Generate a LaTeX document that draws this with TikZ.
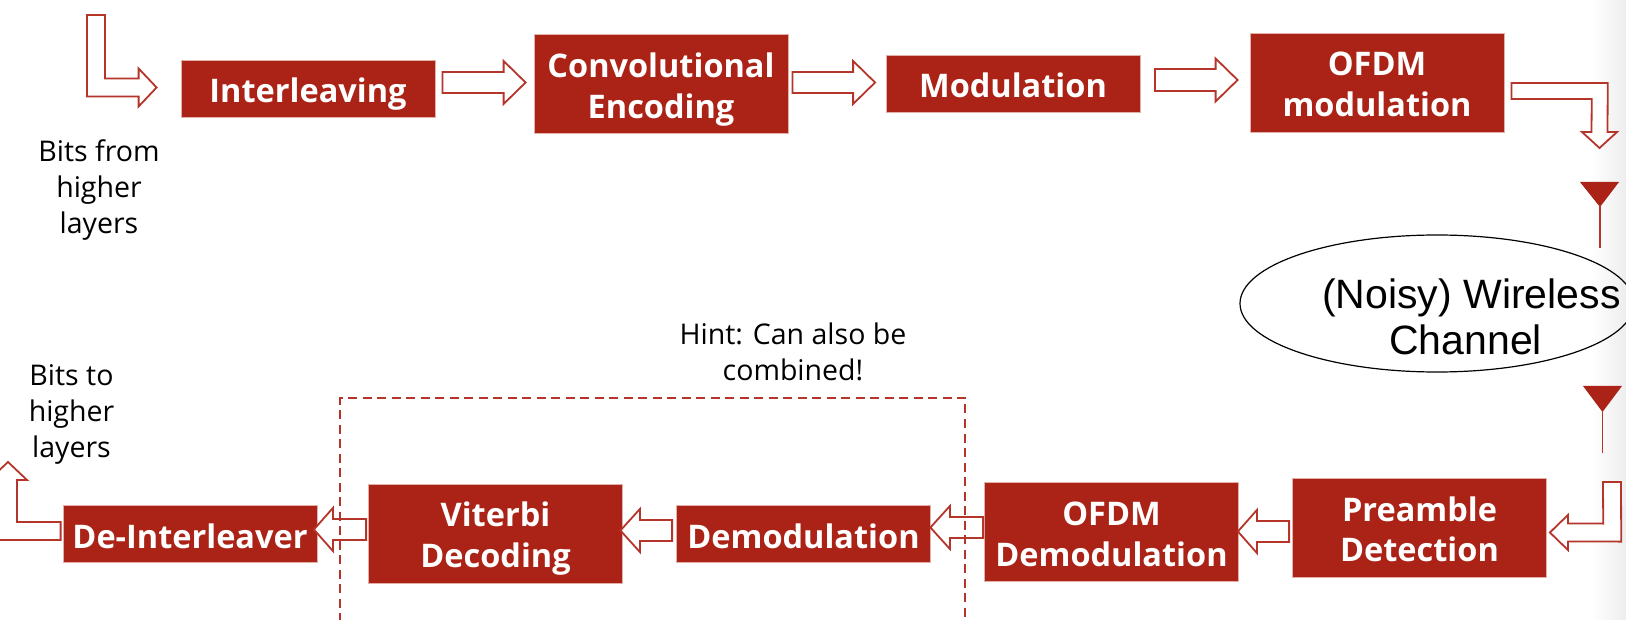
\documentclass[tikz,border=0pt]{standalone}
\usepackage{fontspec}
\setmainfont{Open Sans}
\newfontfamily\helv{Liberation Sans}
\usetikzlibrary{calc,shapes.geometric}
\definecolor{brick}{HTML}{AB2316}
\definecolor{rim}{HTML}{E3B0A8}
\definecolor{arrowline}{HTML}{B5352B}
\tikzset{
  x=1pt,y=-1pt,
  stage/.style={fill=brick,draw=rim,line width=0.8pt,inner sep=0pt,text=white,align=center,
    minimum width=254pt,font=\fontsize{32.5}{40.5}\selectfont\bfseries},
  tall/.style={minimum height=99pt},
  short/.style={minimum height=57pt},
  hollow/.style={draw=arrowline,fill=white,line width=1.8pt,line join=miter},
  note/.style={inner sep=0pt,align=center,text=black,font=\fontsize{28.5}{36}\selectfont},
  guard/.style={draw=arrowline,line width=1.8pt,dash pattern=on 9pt off 5.5pt},
  aerial/.style={fill=brick},
  aerialstem/.style={draw=arrowline,line width=1.8pt}
}
\newcommand{\lowered}[2][3]{\raisebox{-#1pt}[\height][\depth]{#2}}
% straight block arrow: start, tip, half shaft, half head, head length
\newcommand{\blockarrow}[5]{%
  \coordinate (hb) at ($(#2)!#5pt!(#1)$);
  \draw[hollow] ($(#1)!#3pt!90:(#2)$) -- ($(hb)!#3pt!90:(#2)$) -- ($(hb)!#4pt!90:(#2)$) -- (#2)
    -- ($(hb)!#4pt!-90:(#2)$) -- ($(hb)!#3pt!-90:(#2)$) -- ($(#1)!#3pt!-90:(#2)$) -- cycle;
}
% bent block arrow: start, corner, tip, half shaft, half head, head length
\newcommand{\bentarrow}[6]{%
  \coordinate (hb) at ($(#3)!#6pt!(#2)$);
  \coordinate (pa) at ($(#1)!#4pt!90:(#2)$);
  \coordinate (pb) at ($(#2)!#4pt!-90:(#1)$);
  \coordinate (pc) at ($(hb)!#4pt!90:(#3)$);
  \coordinate (pd) at ($(#2)!#4pt!90:(#3)$);
  \coordinate (qa) at ($(#1)!#4pt!-90:(#2)$);
  \coordinate (qb) at ($(#2)!#4pt!90:(#1)$);
  \coordinate (qc) at ($(hb)!#4pt!-90:(#3)$);
  \coordinate (qd) at ($(#2)!#4pt!-90:(#3)$);
  \draw[hollow] (pa) -- (intersection of pa--pb and pc--pd) -- (pc) -- ($(hb)!#5pt!90:(#3)$) -- (#3)
    -- ($(hb)!#5pt!-90:(#3)$) -- (qc) -- (intersection of qa--qb and qc--qd) -- (qa) -- cycle;
}
\begin{document}
\begin{tikzpicture}
\path[use as bounding box] (0,0) rectangle (1626,620);
\clip (0,0) rectangle (1626,620);
\fill[white] (0,0) rectangle (1626,620);
\shade[left color=white,right color=black!7,shading angle=90] (1590,0) rectangle (1626,620);

% boxes
\node[stage,short] (interleave) at (308,88.5) {\lowered[5.5]{Interleaving}};
\node[stage,tall] (conv) at (661,83.5) {\lowered[6]{Convolutional}\\\lowered[6]{Encoding}};
\node[stage,short] (mod) at (1013,84) {\lowered[1]{Modulation}};
\node[stage,tall] (ofdm) at (1377,82.5) {\lowered[2]{OFDM}\\\lowered[2]{modulation}};
\node[stage,tall] (pre) at (1419.5,527.5) {\lowered[2]{Preamble}\\\lowered[2]{Detection}};
\node[stage,tall] (ofdmd) at (1111.5,531.5) {\lowered{OFDM}\\\lowered{Demodulation}};
\node[stage,short] (demod) at (803.5,533.5) {\lowered{Demodulation}};
\node[stage,tall] (vit) at (495.5,533.5) {\lowered[5]{Viterbi}\\\lowered[5]{Decoding}};
\node[stage,short] (deint) at (190,533.5) {\lowered{De-Interleaver}};

% labels
\node[note,anchor=base] (from) at (99,234) {Bits from\\higher\\layers};
\node[note,anchor=base] (to) at (71.5,457) {Bits to\\higher\\layers};
\node[note,anchor=base] (hint) at (793,381) {Hint: Can also be\\combined!};

% channel
\node[ellipse,draw=black,line width=1.2pt,fill=none,inner sep=0pt,minimum width=394pt,minimum height=137pt] (chan) at (1437,303.5) {};
\node[inner sep=0pt,align=center,font=\helv\fontsize{41}{46}\selectfont] (chanlabel) at (1471.5,317) {(Noisy) Wireless\\Channel\hspace*{11.5pt}};

% antennas
\fill[aerial] (1580,182) -- (1619,182) -- (1600,207) -- cycle;
\draw[aerialstem] (1600,205) -- (1600,248);
\fill[aerial] (1583,386) -- (1622,386) -- (1602.5,412) -- cycle;
\draw[aerialstem] (1602.5,410) -- (1602.5,453);

% connector ends
\coordinate (a0s) at (96,15);
\coordinate (a0c) at (96,87.5);
\coordinate (a0t) at ($(interleave.west)+(-24,-1)$);
\coordinate (a1s) at ($(interleave.east)+(7,-6)$);
\coordinate (a1t) at ($(conv.west)+(-8,-1)$);
\coordinate (a2s) at ($(conv.east)+(4,-1)$);
\coordinate (a2t) at ($(mod.west)+(-10.5,-1.5)$);
\coordinate (a3s) at ($(mod.east)+(14.5,-4)$);
\coordinate (a3t) at ($(ofdm.west)+(-12,-2.5)$);
\coordinate (a4s) at ($(ofdm.east)+(7,8.5)$);
\coordinate (a4c) at (1599.5,91);
\coordinate (a4t) at (1599.5,148);
\coordinate (a5s) at (1612,482);
\coordinate (a5c) at (1612,532.5);
\coordinate (a5t) at ($(pre.east)+(3,5)$);
\coordinate (a6s) at ($(pre.west)+(-3,4)$);
\coordinate (a6t) at ($(ofdmd.east)+(-1,0)$);
\coordinate (a7s) at ($(ofdmd.west)+(-1,-4)$);
\coordinate (a7t) at ($(demod.east)+(-0.5,-6)$);
\coordinate (a8s) at ($(demod.west)+(-4,-3)$);
\coordinate (a8t) at ($(vit.east)+(-2.5,-3)$);
\coordinate (a9s) at ($(vit.west)+(-2,-4)$);
\coordinate (a9t) at ($(deint.east)+(-3.5,-4)$);
\coordinate (a10s) at ($(deint.west)+(-2,-2.5)$);
\coordinate (a10c) at (8,531);
\coordinate (a10t) at (8,462);

% connectors
\bentarrow{a0s}{a0c}{a0t}{9}{19}{18}
\blockarrow{a1s}{a1t}{10.5}{21.5}{22}
\blockarrow{a2s}{a2t}{10.5}{21.5}{22}
\blockarrow{a3s}{a3t}{11}{21.5}{22}
\bentarrow{a4s}{a4c}{a4t}{8}{17.5}{16}
\bentarrow{a5s}{a5c}{a5t}{9}{17.5}{18}
\blockarrow{a6s}{a6t}{10.5}{21.5}{19}
\blockarrow{a7s}{a7t}{10.5}{21.5}{19.5}
\blockarrow{a8s}{a8t}{10.5}{21.5}{19.5}
\blockarrow{a9s}{a9t}{10.5}{21.5}{19}
\bentarrow{a10s}{a10c}{a10t}{9}{19}{18}

% dashed group
\draw[guard] (340,622) -- (340,398) -- (965,398) -- (965,622);
\end{tikzpicture}
\end{document}
